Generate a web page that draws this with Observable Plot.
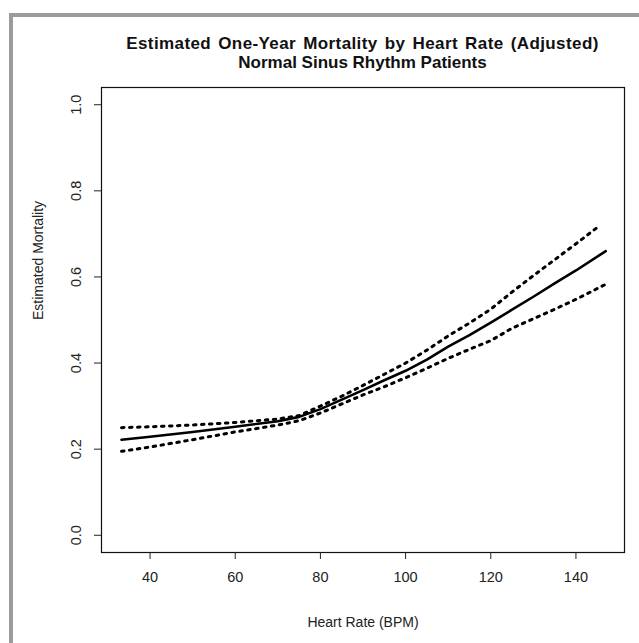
<!DOCTYPE html>
<html>
<head>
<meta charset="utf-8">
<script src="https://cdn.jsdelivr.net/npm/d3@7"></script>
<script src="https://cdn.jsdelivr.net/npm/@observablehq/plot@0.6"></script>
<style>
  html, body { margin: 0; padding: 0; background: #fff; }
  #wrap { position: relative; width: 639px; height: 643px; overflow: hidden; font-family: "Liberation Sans", Arial, Helvetica, sans-serif; }
  #frame { position: absolute; left: 9px; top: 13px; right: -10px; bottom: -10px; border-left: 4px solid #9b9b9b; border-top: 4px solid #9b9b9b; pointer-events: none; z-index: 2; }
  #title { position: absolute; left: 101px; width: 523px; top: 34px; text-align: center; font-weight: bold; font-size: 17px; line-height: 19px; color: #111; z-index: 3; }
  #title .l1 { letter-spacing: 0.4px; word-spacing: 2px; }
  #chart { position: absolute; left: 0; top: 0; }
</style>
</head>
<body>
<div id="wrap">
  <div id="chart"></div>
  <div id="frame"></div>
  <div id="title"><span class="l1">Estimated One-Year Mortality by Heart Rate (Adjusted)</span><br>Normal Sinus Rhythm Patients</div>
</div>
<script>
const heartRate = [33.3, 40, 50, 60, 70, 75, 80, 85, 90, 95, 100, 105, 110, 115, 120, 125, 130, 135, 140, 147];
const estimate  = [0.222, 0.229, 0.240, 0.252, 0.265, 0.275, 0.293, 0.315, 0.337, 0.360, 0.382, 0.408, 0.438, 0.465, 0.494, 0.524, 0.554, 0.585, 0.615, 0.660];
const upperRate = [33.3, 40, 50, 60, 70, 75, 80, 85, 90, 95, 100, 105, 110, 115, 120, 125, 130, 135, 140, 145];
const upper     = [0.250, 0.252, 0.256, 0.262, 0.270, 0.278, 0.300, 0.323, 0.348, 0.374, 0.400, 0.430, 0.463, 0.493, 0.525, 0.565, 0.603, 0.640, 0.677, 0.715];
const lower     = [0.195, 0.205, 0.222, 0.240, 0.256, 0.266, 0.284, 0.305, 0.326, 0.345, 0.366, 0.388, 0.411, 0.432, 0.452, 0.481, 0.503, 0.525, 0.548, 0.583];
const xTicks = [40, 60, 80, 100, 120, 140];
const yTicks = [0.0, 0.2, 0.4, 0.6, 0.8, 1.0];
const xLabel = "Heart Rate (BPM)";
const yLabel = "Estimated Mortality";

const mainData = heartRate.map((x, i) => ({x, y: estimate[i]}));
const upperData = upperRate.map((x, i) => ({x, y: upper[i]}));
const lowerData = heartRate.map((x, i) => ({x, y: lower[i]}));

const chart = Plot.plot({
  width: 639,
  height: 643,
  marginLeft: 101,
  marginRight: 15,
  marginTop: 87,
  marginBottom: 91,
  style: {fontFamily: "'Liberation Sans', Arial, Helvetica, sans-serif", fontSize: "14px", color: "#222", background: "#fff"},
  x: {domain: [28.6, 151.4]},
  y: {domain: [-0.04, 1.04]},
  marks: [
    Plot.frame({stroke: "#111", strokeWidth: 1.2}),
    Plot.axisX({ticks: xTicks, tickSize: 7, tickPadding: 12, tickFormat: d => String(d), fontSize: 14.5, label: null}),
    Plot.axisY({ticks: yTicks, tickSize: 7, tickPadding: 14, tickRotate: -90, tickFormat: d => d.toFixed(1), fontSize: 14.5, label: null}),
    Plot.text([xLabel], {text: d => d, frameAnchor: "bottom", dy: 74, fontSize: 14, fill: "#222"}),
    Plot.text([yLabel], {text: d => d, frameAnchor: "left", dx: -63, rotate: -90, fontSize: 14, fill: "#222"}),
    Plot.line(upperData, {x: "x", y: "y", stroke: "#000", strokeWidth: 3, strokeDasharray: "2.5,5.5"}),
    Plot.line(lowerData, {x: "x", y: "y", stroke: "#000", strokeWidth: 3, strokeDasharray: "2.5,5.5"}),
    Plot.line(mainData, {x: "x", y: "y", stroke: "#000", strokeWidth: 2.6})
  ]
});
document.getElementById("chart").appendChild(chart);
</script>
</body>
</html>
